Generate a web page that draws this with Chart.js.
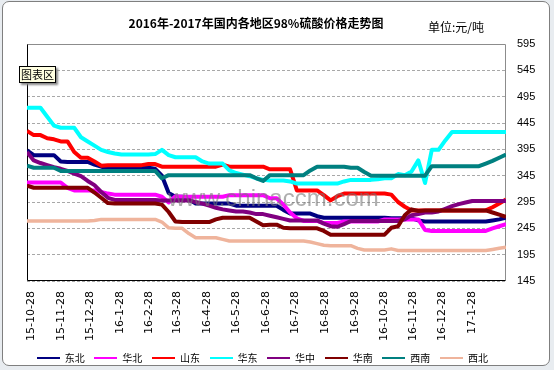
<!DOCTYPE html>
<html><head><meta charset="utf-8">
<script src="https://cdn.jsdelivr.net/npm/chart.js@4.4.1/dist/chart.umd.min.js"></script>
<style>
html,body{margin:0;padding:0;}
body{width:554px;height:370px;background:#e8ecf0;position:relative;overflow:hidden;font-family:"Noto Sans CJK SC",sans-serif;}
#frame{position:absolute;left:2px;top:1px;width:546px;height:363px;border:1px solid #7f7f7f;border-radius:7px;background:#fff;}
#c{position:absolute;left:0;top:0;}
#title{position:absolute;left:0;width:512px;top:15px;text-align:center;font-weight:bold;font-size:12px;line-height:16px;color:#000;}
#unit{position:absolute;left:428px;top:19px;font-size:12px;line-height:16px;color:#000;}
#tip{position:absolute;left:19px;top:66px;width:37px;height:17px;box-sizing:border-box;border:1px solid #000;background:#ffffe1;font-size:11px;line-height:15px;text-align:center;box-shadow:2px 2px 2px #888;}
#wm{position:absolute;left:168px;top:186px;font-family:"Liberation Sans",Arial,sans-serif;font-size:24px;line-height:24px;color:rgba(120,120,120,0.6);white-space:nowrap;}
.lg{position:absolute;top:351px;height:14px;font-size:10px;line-height:14px;white-space:nowrap;color:#000;}
.lg span.ln{display:inline-block;width:23px;height:2px;vertical-align:middle;margin-right:5px;position:relative;top:-1px;}
</style></head>
<body>
<div id="frame"></div>
<canvas id="c" width="554" height="370"></canvas>
<div id="title">2016年-2017年国内各地区98%硫酸价格走势图</div>
<div id="unit">单位:元/吨</div>
<div id="tip">图表区</div>
<div id="wm">www.chinaccm.com</div>
<div id="legend"></div>
<script>
// x positions: days since 2015-10-28 (weekly samples)
const days = [0,7,14,21,28,35,42,49,56,63,70,77,84,91,98,105,112,119,126,133,140,147,154,161,168,175,182,189,196,203,210,217,224,231,238,245,252,259,266,273,280,287,294,301,308,315,322,329,336,343,350,357,364,371,378,385,392,399,406,413,420,427,434,441,448,455,462,469,476,483,490,497];
const tickDays = [0,31,61,92,123,152,183,213,244,274,305,336,366,397,427,458];
const tickLabels = ['15-10-28','15-11-28','15-12-28','16-1-28','16-2-28','16-3-28','16-4-28','16-5-28','16-6-28','16-7-28','16-8-28','16-9-28','16-10-28','16-11-28','16-12-28','17-1-28'];
const yTicks = [145,195,245,295,345,395,445,495,545,595];

const names = ['东北','华北','山东','华东','华中','华南','西南','西北'];
const colors = ['#000080','#ff00ff','#ff0000','#00ffff','#800080','#800000','#008080','#efb49c'];

const dongbei = [393,384,384,384,384,372,371,371,371,371,366,362,360,360,360,360,360,360,360,358,345,312,305,305,300,292,292,292,292,292,292,288,288,288,288,288,288,288,280,273,273,273,273,268,265,265,265,265,265,265,265,265,265,265,264,264,264,264,260,258,258,258,258,258,258,258,258,258,258,260,262,265];
const huabei = [332,332,332,332,332,332,322,317,317,317,317,314,311,309,309,309,309,309,309,309,305,294,306,305,305,305,305,305,305,305,308,308,308,308,308,308,302,302,290,275,264,259,259,259,255,255,255,258,258,258,258,258,258,262,262,262,262,262,262,242,240,240,240,240,240,240,240,240,240,245,249,253];
const shandong = [430,422,422,416,414,410,410,390,379,379,372,364,365,365,365,365,365,365,367,367,362,362,362,362,362,362,362,362,362,366,362,362,362,362,362,362,357,357,357,357,317,317,317,317,308,298,306,311,311,311,311,311,311,311,309,295,286,279,279,279,279,279,279,279,279,279,279,279,279,285,292,300];
const huadong = [474,474,474,457,440,436,436,436,418,410,402,394,390,387,385,385,385,385,385,386,394,384,380,380,380,380,372,368,368,368,355,350,347,344,340,337,336,336,336,334,330,330,330,330,330,330,330,334,337,337,337,337,338,340,340,348,346,353,374,331,394,394,412,428,428,428,428,428,428,428,428,428];
const huazhong = [390,374,369,365,361,358,354,349,344,335,327,314,303,299,299,299,299,299,299,299,298,298,298,298,298,295,292,288,284,281,279,277,277,275,272,272,269,266,263,260,260,260,260,260,254,249,248,253,259,259,259,259,259,259,259,259,262,270,272,275,275,277,282,287,291,294,297,297,297,297,297,297];
const huanan = [326,322,322,322,322,322,322,322,322,322,313,303,293,292,292,292,292,292,292,292,290,276,258,257,257,257,257,257,262,265,265,265,265,265,258,251,252,252,246,245,245,245,245,245,240,233,233,233,233,233,233,233,233,233,246,249,270,281,278,279,279,279,279,279,279,279,279,279,279,275,271,267];
const xinan = [364,360,360,360,360,354,354,354,354,354,354,354,354,354,354,354,354,354,354,354,340,346,346,346,346,346,346,346,346,346,346,346,346,346,340,335,346,346,346,346,346,346,355,362,362,362,362,362,360,360,352,345,345,345,345,345,345,345,345,345,363,363,363,363,363,363,363,363,368,373,379,385];
const xibei = [259,259,259,259,259,259,259,259,259,259,260,262,262,262,262,262,262,262,262,262,257,246,245,245,235,227,227,227,227,224,221,221,221,221,221,221,221,221,221,221,221,221,219,216,213,212,212,212,212,207,204,204,204,204,206,203,203,203,203,203,203,203,203,203,203,203,203,203,203,205,207,209];

const seriesValues = [dongbei,huabei,shandong,huadong,huazhong,huanan,xinan,xibei];

// legend (HTML)
const lg = document.getElementById('legend');
names.forEach((n,i)=>{
  const d = document.createElement('div');
  d.className='lg';
  d.style.left = (36.7 + i*57.6) + 'px';
  d.innerHTML = '<span class="ln" style="background:'+colors[i]+'"></span>'+n;
  lg.appendChild(d);
});

const framePlugin = {
  id:'frame',
  beforeDatasetsDraw(chart){
    const {ctx, chartArea:a} = chart;
    const L = Math.round(a.left)+0.5, R = Math.round(a.right)-0.5, T = Math.round(a.top)+0.5, B = Math.round(a.bottom)-0.5;
    ctx.save();
    ctx.lineWidth = 1;
    ctx.strokeStyle = '#8c8c8c';
    ctx.beginPath(); ctx.moveTo(L, T); ctx.lineTo(R, T); ctx.lineTo(R, B); ctx.stroke();
    ctx.strokeStyle = '#000';
    ctx.beginPath(); ctx.moveTo(L, T); ctx.lineTo(L, B); ctx.lineTo(R, B); ctx.stroke();
    ctx.restore();
  }
};

new Chart(document.getElementById('c').getContext('2d'), {
  type:'line',
  data:{
    datasets: seriesValues.map((vals,i)=>({
      label: names[i],
      data: days.map((d,k)=>({x:d, y:vals[k]})),
      borderColor: colors[i],
      backgroundColor: colors[i],
      borderWidth: i===7 ? 3.5 : 4,
      pointRadius: 0,
      tension: 0,
      fill: false,
      borderJoinStyle: 'round',
      order: seriesValues.length - i
    }))
  },
  options:{
    responsive:false, animation:false, devicePixelRatio:1,
    layout:{padding:{left:27, top:44, right:0, bottom:0}},
    plugins:{legend:{display:false}, tooltip:{enabled:false}, title:{display:false}},
    scales:{
      x:{
        type:'linear', min:0, max:497,
        afterBuildTicks: sc => { sc.ticks = tickDays.map(v=>({value:v})); },
        afterFit: sc => { sc.height = 89; },
        ticks:{autoSkip:false, minRotation:90, maxRotation:90, padding:10, labelOffset:4, color:'#000',
          font:{family:'DejaVu Sans', size:11},
          callback:(v)=>{ const k = tickDays.indexOf(v); return k>=0 ? tickLabels[k] : ''; }},
        grid:{display:true, drawOnChartArea:false, drawTicks:false},
        border:{display:false}
      },
      y:{
        position:'right', min:145, max:595,
        afterBuildTicks: sc => { sc.ticks = yTicks.map(v=>({value:v})); },
        afterFit: sc => { sc.width = 48; },
        ticks:{padding:11, color:'#000', font:{family:'Liberation Sans', size:11}},
        grid:{color:'#a8a8a8', drawTicks:false},
        border:{display:false, dash:[3,2]}
      }
    }
  },
  plugins:[framePlugin]
});
</script>
</body></html>
